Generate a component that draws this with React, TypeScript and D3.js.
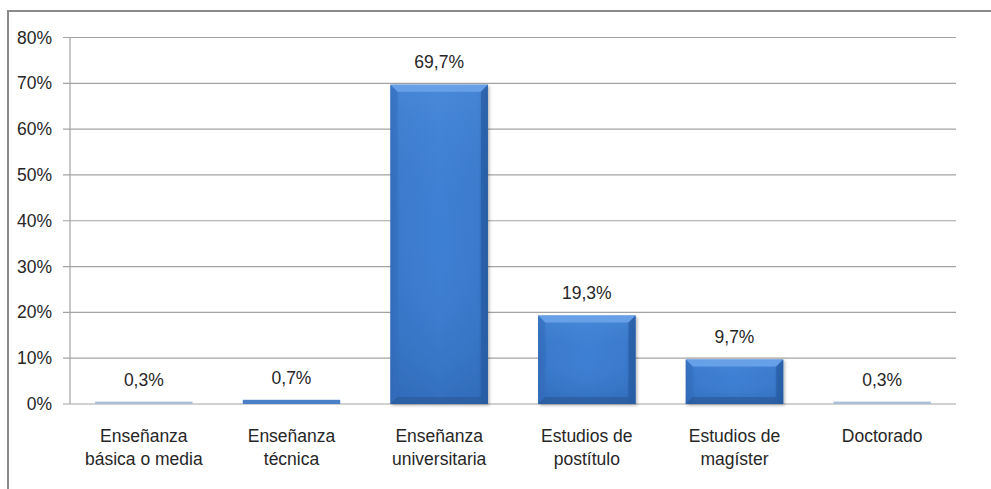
import React from 'react';
import * as d3 from 'd3';

// categorías y valores (%)
const categories = [
  ['Enseñanza', 'básica o media'],
  ['Enseñanza', 'técnica'],
  ['Enseñanza', 'universitaria'],
  ['Estudios de', 'postítulo'],
  ['Estudios de', 'magíster'],
  ['Doctorado'],
];
const values = [0.3, 0.7, 69.7, 19.3, 9.7, 0.3];
const valueLabels = ['0,3%', '0,7%', '69,7%', '19,3%', '9,7%', '0,3%'];
const yTicks = [0, 10, 20, 30, 40, 50, 60, 70, 80];

const W = 991;
const H = 489;
const margin = { left: 70, right: 35, top: 37.5, bottom: 85 };
const FONT = '"Liberation Sans", Arial, sans-serif';

export default function App() {
  const x = d3
    .scaleBand<number>()
    .domain(values.map((_, i) => i))
    .range([margin.left, W - margin.right])
    .paddingInner(0.34)
    .paddingOuter(0.17);

  const y = d3
    .scaleLinear()
    .domain([0, 80])
    .range([H - margin.bottom, margin.top]);

  const bw = x.bandwidth();
  const bev = 7;

  return (
    <svg
      width={W}
      height={H}
      style={{ position: 'absolute', left: 0, top: 0, background: '#fff' }}
      fontFamily={FONT}
    >
      <defs>
        <linearGradient id="barFill" x1="0" x2="1" y1="0" y2="0">
          <stop offset="0" stopColor="#2f67b4" />
          <stop offset="0.1" stopColor="#3a7acc" />
          <stop offset="0.5" stopColor="#3e80d3" />
          <stop offset="0.9" stopColor="#3a7acc" />
          <stop offset="1" stopColor="#2b5fa8" />
        </linearGradient>
        <linearGradient id="barShade" x1="0" x2="0" y1="0" y2="1">
          <stop offset="0" stopColor="#5c9ae6" stopOpacity="0.35" />
          <stop offset="0.5" stopColor="#3a78c8" stopOpacity="0" />
          <stop offset="1" stopColor="#1f4f94" stopOpacity="0.35" />
        </linearGradient>
        <filter id="shadow" x="-10%" y="-10%" width="130%" height="130%">
          <feDropShadow dx="1.5" dy="1.5" stdDeviation="1.5" floodColor="#000" floodOpacity="0.28" />
        </filter>
      </defs>

      {/* marco del gráfico */}
      <rect x={8} y={11} width={W + 20} height={H + 20} fill="none" stroke="#8a8a8a" strokeWidth={2} />

      {/* líneas de división */}
      {yTicks.map((t) => (
        <g key={t}>
          <line
            x1={margin.left - 7}
            x2={W - margin.right}
            y1={y(t)}
            y2={y(t)}
            stroke="#a3a3a3"
            strokeWidth={1.2}
          />
          <text
            x={52}
            y={y(t)}
            textAnchor="end"
            dominantBaseline="central"
            fontSize={17.5}
            fill="#262626"
          >
            {t}%
          </text>
        </g>
      ))}
      <line x1={margin.left} x2={margin.left} y1={y(80)} y2={y(0)} stroke="#a3a3a3" strokeWidth={1.2} />

      {/* barras */}
      {values.map((v, i) => {
        const x0 = x(i)!;
        const y0 = y(v);
        const y1 = y(0);
        const h = y1 - y0;
        const b = Math.min(bev, h / 2);
        if (h < 4) {
          return (
            <rect key={i} x={x0} y={y0 - 1} width={bw} height={h + 1} fill={v < 0.5 ? '#a9bfd8' : '#4a80c8'} />
          );
        }
        return (
          <g key={i} filter="url(#shadow)">
            <rect x={x0} y={y0} width={bw} height={h} fill="url(#barFill)" />
            <rect x={x0} y={y0} width={bw} height={h} fill="url(#barShade)" />
            <polygon
              points={`${x0},${y0} ${x0 + bw},${y0} ${x0 + bw - b},${y0 + b} ${x0 + b},${y0 + b}`}
              fill="#6aa3ea"
              opacity={0.9}
            />
            <polygon
              points={`${x0},${y0} ${x0 + b},${y0 + b} ${x0 + b},${y1 - b} ${x0},${y1}`}
              fill="#3670bf"
              opacity={0.6}
            />
            <polygon
              points={`${x0 + bw},${y0} ${x0 + bw - b},${y0 + b} ${x0 + bw - b},${y1 - b} ${x0 + bw},${y1}`}
              fill="#275ca3"
              opacity={0.7}
            />
            <polygon
              points={`${x0},${y1} ${x0 + b},${y1 - b} ${x0 + bw - b},${y1 - b} ${x0 + bw},${y1}`}
              fill="#2a5898"
              opacity={0.6}
            />
          </g>
        );
      })}

      {/* etiquetas de datos */}
      {values.map((v, i) => (
        <text
          key={i}
          x={x(i)! + bw / 2}
          y={y(v) - 23}
          textAnchor="middle"
          dominantBaseline="central"
          fontSize={17.5}
          fill="#262626"
        >
          {valueLabels[i]}
        </text>
      ))}

      {/* etiquetas de categoría */}
      {categories.map((lines, i) => (
        <text key={i} x={x(i)! + bw / 2} textAnchor="middle" fontSize={17.5} fill="#262626">
          {lines.map((l, j) => (
            <tspan key={j} x={x(i)! + bw / 2} y={436 + j * 23} dominantBaseline="central">
              {l}
            </tspan>
          ))}
        </text>
      ))}
    </svg>
  );
}
